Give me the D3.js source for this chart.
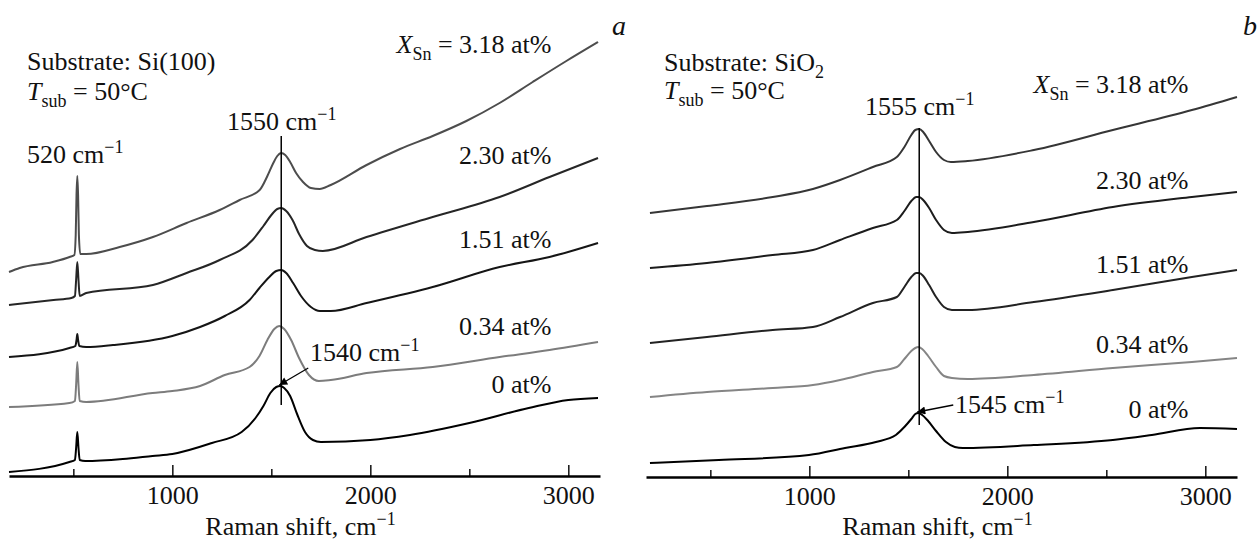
<!DOCTYPE html>
<html>
<head>
<meta charset="utf-8">
<script src="https://cdn.jsdelivr.net/npm/d3@7"></script>
<style>
	body { margin: 0; background: #fff; }
	svg text { font-family: "Liberation Serif", "Times New Roman", serif; fill: #111; }
</style>
</head>
<body>
<svg id="chart" width="1258" height="542"></svg>
<script>
// Ticks (Raman shift, cm-1)
var majorTicks = [1000, 2000, 3000],
	minorTicks = [500, 1500, 2500];

var compositions = ["3.18", "2.30", "1.51", "0.34", "0"];

// Panel a, substrate Si(100): [Raman shift, intensity a.u.]
var siA318 = [[175,204],[229,208],[396,214],[481,219],[505,221],[512,241],[516,281],[520,300],[524,281],[528,241],[535,222],[565,222],[734,229],[902,239],[1072,253],[1239,266],[1340,276],[1441,286],[1480,300],[1510,313],[1530,320],[1550,323],[1570,321],[1595,314],[1625,303],[1660,294],[1700,288],[1744,287],[1800,291],[1981,311],[2150,327],[2315,340],[2485,355],[2653,373],[2820,394],[2990,415],[3150,434]];
var siA230 = [[175,171],[400,176],[490,178],[508,180],[514,196],[520,214],[526,196],[532,180],[565,183],[902,191],[1072,203],[1239,216],[1405,236],[1460,250],[1500,261],[1530,267],[1550,268],[1575,265],[1607,256],[1640,242],[1680,230],[1720,226],[1760,225],[1981,239],[2315,259],[2653,279],[2905,299],[3150,318]];
var siA151 = [[175,119],[480,128],[510,130],[516,136],[520,142],[524,136],[530,130],[565,129],[700,131],[1000,140],[1140,149],[1265,160],[1390,176],[1440,188],[1490,199],[1525,205],[1550,206],[1575,203],[1610,193],[1650,180],[1700,169],[1745,165],[1800,165],[1981,173],[2315,189],[2653,209],[2905,219],[3150,233]];
var siA034 = [[175,69],[480,73],[508,75],[514,91],[520,114],[526,91],[532,75],[565,74],[900,83],[1000,85],[1140,90],[1265,101],[1390,109],[1440,120],[1480,136],[1515,147],[1540,150],[1565,147],[1600,136],[1640,118],[1690,101],[1740,95],[1800,96],[1981,103],[2315,109],[2653,119],[2905,126],[3150,134]];
var siA0 = [[175,4],[480,14],[508,16],[514,28],[520,44],[526,28],[532,16],[560,15],[750,17],[900,20],[1000,22],[1200,33],[1350,44],[1420,58],[1460,70],[1495,83],[1525,89],[1545,90],[1565,88],[1595,80],[1630,62],[1670,44],[1710,36],[1750,34],[2000,36],[2200,41],[2500,53],[2800,68],[3000,76],[3150,78]];

// Panel b, substrate SiO2
var sioB318 = [[195,264],[483,271],[815,280],[1018,288],[1155,297],[1321,310],[1442,320],[1480,330],[1515,342],[1535,347],[1555,348],[1575,345],[1605,336],[1640,325],[1680,317],[1715,315],[1800,316],[2134,327],[2533,347],[2932,367],[3160,380]];
var sioB230 = [[195,209],[483,214],[815,222],[1018,227],[1155,237],[1321,249],[1442,257],[1480,266],[1515,276],[1540,280],[1555,280],[1575,277],[1605,269],[1640,257],[1680,247],[1720,244],[1800,245],[2134,255],[2533,270],[2932,280],[3160,285]];
var sioB151 = [[195,134],[483,140],[815,147],[1018,150],[1155,160],[1321,174],[1442,180],[1480,190],[1515,200],[1540,204],[1555,204],[1575,201],[1605,192],[1640,180],[1680,170],[1720,167],[1800,167],[2134,175],[2533,187],[2932,200],[3160,207]];
var sioB034 = [[195,80],[483,85],[815,89],[1018,92],[1155,97],[1321,105],[1442,110],[1480,118],[1515,126],[1535,129],[1550,130],[1570,128],[1600,121],[1640,110],[1680,101],[1720,99],[1800,98],[2134,102],[2533,109],[2932,115],[3160,119]];
var sioB0 = [[195,14],[543,17],[998,22],[1180,29],[1336,35],[1437,42],[1480,50],[1515,58],[1535,63],[1550,64],[1570,62],[1600,56],[1640,46],[1690,35],[1735,30],[1775,29],[2134,32],[2533,37],[2730,42],[2973,49],[3160,48]];

var svg = d3.select("#chart");

var defs = svg.append("defs");
defs.append("marker")
	.attr("id", "arrow")
	.attr("viewBox", "0 0 10 10")
	.attr("refX", 10)
	.attr("refY", 5)
	.attr("markerWidth", 11)
	.attr("markerHeight", 8)
	.attr("markerUnits", "userSpaceOnUse")
	.attr("orient", "auto")
	.append("path")
	.attr("d", "M0,0 L10,5 L0,10 Z")
	.attr("fill", "#000");

var panels = [
	{
		letter: "a", letterPos: [612, 35],
		left: 9, right: 600, axisY: 476,
		series: [siA318, siA230, siA151, siA034, siA0],
		colors: ["#4d4d4d", "#262626", "#151515", "#7c7c7c", "#000"],
		labelY: [53, 164, 248, 335, 393],
		substrate: [["Substrate: Si(100)", ""]],
		textX: 27, subY: 70, tY: 100,
		peakLine: { v: 1550, top: 136, bottom: 405, label: "1550", ly: 130, lx: 227 },
		siPeak: { label: "520", x: 27, y: 163 },
		arrow: { v: 1540, label: "1540", dx: 29, dy: -17, lx: 310, ly: 361 }
	},
	{
		letter: "b", letterPos: [1243, 35],
		left: 646, right: 1237, axisY: 477,
		series: [sioB318, sioB230, sioB151, sioB034, sioB0],
		colors: ["#363636", "#1c1c1c", "#222", "#858585", "#000"],
		labelY: [93, 189, 273, 353, 418],
		substrate: [["Substrate: SiO", ""], ["2", "sub"]],
		textX: 664, subY: 71, tY: 99,
		peakLine: { v: 1555, top: 128, bottom: 425, label: "1555", ly: 115, lx: 865 },
		siPeak: null,
		arrow: { v: 1545, label: "1545", dx: 36, dy: -7, lx: 955, ly: 413 }
	}
];

function richText(g, x, y, parts, anchor) {
	var t = g.append("text")
		.attr("x", x)
		.attr("y", y)
		.attr("font-size", 26)
		.attr("text-anchor", anchor || "start");
	var shift = 0;
	parts.forEach(function (p) {
		var want = p[1] == "sub" ? 7 : (p[1] == "sup" ? -10 : 0);
		var s = t.append("tspan").text(p[0]).attr("dy", want - shift);
		shift = want;
		if (p[1] == "sub" || p[1] == "sup") s.attr("font-size", 18);
		if (p[1] == "it") s.attr("font-style", "italic");
	});
	return t;
}

panels.forEach(drawPanel);

function drawPanel(P) {
	var g = svg.append("g");

	var x = d3.scaleLinear().domain([175, 3160]).range([P.left, P.right]);
	var y = d3.scaleLinear().domain([0, P.axisY]).range([P.axisY, 0]);

	var line = d3.line()
		.x(function (d) { return x(d[0]); })
		.y(function (d) { return y(d[1]); })
		.curve(d3.curveMonotoneX);

	// spectra
	P.series.forEach(function (s, i) {
		g.append("path")
			.datum(s)
			.attr("d", line)
			.attr("fill", "none")
			.attr("stroke", P.colors[i])
			.attr("stroke-width", 2)
			.attr("stroke-linejoin", "round");
	});

	// axis
	var major = d3.axisBottom(x).tickValues(majorTicks).tickSize(-11).tickSizeOuter(0)
		.tickPadding(10).tickFormat(d3.format("d"));
	var minor = d3.axisBottom(x).tickValues(minorTicks).tickSize(-7).tickSizeOuter(0).tickFormat("");

	var ax = g.append("g").attr("transform", "translate(0," + P.axisY + ")");
	ax.call(major);
	ax.select(".domain").attr("stroke", "#000").attr("stroke-width", 2.6);
	ax.selectAll(".tick line").attr("stroke", "#000").attr("stroke-width", 1.4);
	ax.selectAll(".tick text")
		.attr("font-family", "Liberation Serif, serif")
		.attr("font-size", 26)
		.attr("fill", "#111");

	var axm = g.append("g").attr("transform", "translate(0," + P.axisY + ")");
	axm.call(minor);
	axm.select(".domain").remove();
	axm.selectAll(".tick line").attr("stroke", "#000").attr("stroke-width", 1.4);

	richText(g, (P.left + P.right) / 2 - 4, 535, [["Raman shift, cm", ""], ["\u22121", "sup"]], "middle");

	// composition labels
	P.labelY.forEach(function (ly, i) {
		var parts = i == 0
			? [["X", "it"], ["Sn", "sub"], [" = " + compositions[i] + " at%", ""]]
			: [[compositions[i] + " at%", ""]];
		richText(g, x(2915), ly, parts, "end");
	});

	// substrate / temperature
	richText(g, P.textX, P.subY, P.substrate);
	richText(g, P.textX, P.tY, [["T", "it"], ["sub", "sub"], [" = 50\u00b0C", ""]]);

	// panel letter
	g.append("text")
		.attr("x", P.letterPos[0])
		.attr("y", P.letterPos[1])
		.attr("font-size", 28)
		.attr("font-style", "italic")
		.text(P.letter);

	// D-band peak line
	var pl = P.peakLine;
	g.append("line")
		.attr("x1", x(pl.v)).attr("x2", x(pl.v))
		.attr("y1", pl.top).attr("y2", pl.bottom)
		.attr("stroke", "#000")
		.attr("stroke-width", 1.5);
	richText(g, pl.lx, pl.ly, [[pl.label + " cm", ""], ["\u22121", "sup"]]);

	if (P.siPeak) {
		richText(g, P.siPeak.x, P.siPeak.y, [[P.siPeak.label + " cm", ""], ["\u22121", "sup"]]);
	}

	// arrow to the 0 at% peak
	var a = P.arrow,
		last = P.series[P.series.length - 1],
		pk = last.reduce(function (m, d) { return d[1] > m[1] ? d : m; });
	var hx = x(a.v), hy = y(pk[1]) - 1;
	g.append("line")
		.attr("x1", hx + a.dx).attr("y1", hy + a.dy)
		.attr("x2", hx).attr("y2", hy)
		.attr("stroke", "#000")
		.attr("stroke-width", 1.3)
		.attr("marker-end", "url(#arrow)");
	richText(g, a.lx, a.ly, [[a.label + " cm", ""], ["\u22121", "sup"]]);
}
</script>
</body>
</html>
